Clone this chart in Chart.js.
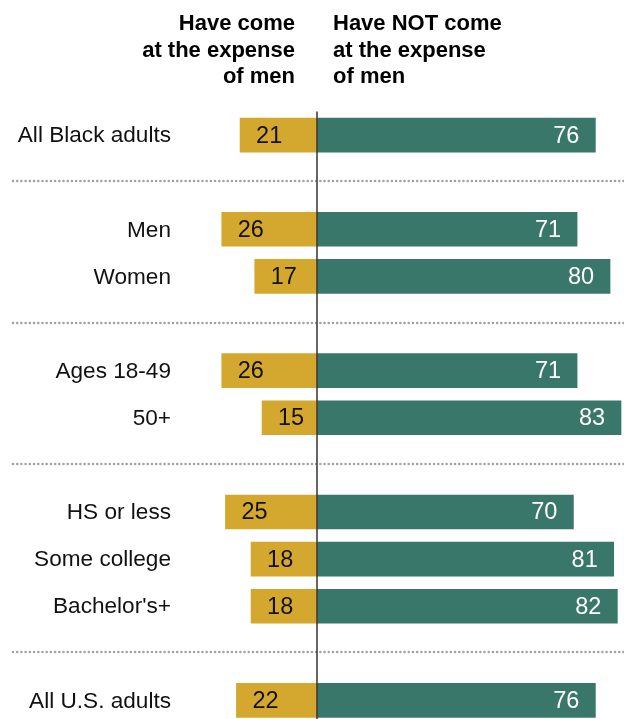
<!DOCTYPE html>
<html>
<head>
<meta charset="utf-8">
<script src="https://cdn.jsdelivr.net/npm/chart.js@4/dist/chart.umd.min.js"></script>
<style>
    html, body { margin: 0; padding: 0; background: #ffffff; overflow: hidden; }
    #wrap { position: relative; width: 624px; height: 719px; overflow: hidden; }
    canvas { display: block; }
</style>
</head>
<body>
<div id="wrap"><canvas id="expenseChart" width="624" height="724"></canvas></div>
<script>
    // Rows with an empty label are spacers that carry the dotted dividers
    const categories = ['All Black adults', '', 'Men', 'Women', '', 'Ages 18-49', '50+', '', 'HS or less', 'Some college', "Bachelor's+", '', 'All U.S. adults'];
    const cameAtExpense = [21, null, 26, 17, null, 26, 15, null, 25, 18, 18, null, 22];
    const notAtExpense = [76, null, 71, 80, null, 71, 83, null, 70, 81, 82, null, 76];
    const leftHeader = ['Have come', 'at the expense', 'of men'];
    const rightHeader = ['Have NOT come', 'at the expense', 'of men'];

    const GOLD = '#D4A72F';
    const GREEN = '#39776A';
    const FONT = "'Liberation Sans', Arial, sans-serif";

    (function () {
        const headerPlugin = {
            id: 'headers',
            afterDraw(chart) {
                const ctx = chart.ctx;
                const x0 = chart.scales.x.getPixelForValue(0);
                ctx.save();
                ctx.fillStyle = '#000000';
                ctx.font = `bold 22px ${FONT}`;
                ctx.textBaseline = 'alphabetic';
                leftHeader.forEach((line, i) => {
                    ctx.textAlign = 'right';
                    ctx.fillText(line, x0 - 22, 30 + i * 26.5);
                });
                rightHeader.forEach((line, i) => {
                    ctx.textAlign = 'left';
                    ctx.fillText(line, x0 + 16, 30 + i * 26.5);
                });
                ctx.restore();
            }
        };

        const dividerPlugin = {
            id: 'dividers',
            beforeDatasetsDraw(chart) {
                const ctx = chart.ctx;
                const y = chart.scales.y;
                ctx.save();
                ctx.strokeStyle = '#a2a2a2';
                ctx.lineWidth = 2.6;
                ctx.lineCap = 'round';
                ctx.setLineDash([0.01, 4.2]);
                categories.forEach((label, i) => {
                    if (label !== '') return;
                    const py = Math.round(y.getPixelForValue(i)) - 1;
                    ctx.beginPath();
                    ctx.moveTo(13, py);
                    ctx.lineTo(chart.width, py);
                    ctx.stroke();
                });
                ctx.restore();
            },
            afterDatasetsDraw(chart) {
                const ctx = chart.ctx;
                const x0 = chart.scales.x.getPixelForValue(0);
                ctx.save();
                ctx.strokeStyle = '#333333';
                ctx.lineWidth = 1.5;
                ctx.beginPath();
                ctx.moveTo(x0, chart.chartArea.top);
                ctx.lineTo(x0, chart.height);
                ctx.stroke();
                ctx.restore();
            }
        };

        const labelPlugin = {
            id: 'valueLabels',
            afterDatasetsDraw(chart) {
                const ctx = chart.ctx;
                const y = chart.scales.y;
                ctx.save();
                ctx.textBaseline = 'middle';

                // category names on the left
                ctx.font = `22.6px ${FONT}`;
                ctx.fillStyle = '#111111';
                ctx.textAlign = 'right';
                categories.forEach((label, i) => {
                    if (label) ctx.fillText(label, 171, y.getPixelForValue(i) + 1);
                });

                ctx.font = `23.5px ${FONT}`;
                chart.getDatasetMeta(0).data.forEach((bar, i) => {
                    if (cameAtExpense[i] == null) return;
                    ctx.fillStyle = '#111111';
                    ctx.textAlign = 'left';
                    ctx.fillText(String(cameAtExpense[i]), bar.x + 16, bar.y + 1);
                });
                chart.getDatasetMeta(1).data.forEach((bar, i) => {
                    if (notAtExpense[i] == null) return;
                    ctx.fillStyle = '#ffffff';
                    ctx.textAlign = 'right';
                    ctx.fillText(String(notAtExpense[i]), bar.x - 16, bar.y + 1);
                });
                ctx.restore();
            }
        };

        function renderChart() {
            const canvas = document.getElementById('expenseChart');
            new Chart(canvas.getContext('2d'), {
                type: 'bar',
                data: {
                    labels: categories,
                    datasets: [{
                        label: 'Have come at the expense of men',
                        data: cameAtExpense.map(v => v == null ? null : -v),
                        backgroundColor: GOLD,
                        barThickness: 34
                    }, {
                        label: 'Have NOT come at the expense of men',
                        data: notAtExpense,
                        backgroundColor: GREEN,
                        barThickness: 34
                    }]
                },
                options: {
                    indexAxis: 'y',
                    responsive: false,
                    animation: false,
                    layout: { padding: { top: 111.5, bottom: 0, left: 0, right: 0 } },
                    scales: {
                        x: { display: false, stacked: true, min: -86.54, max: 83.81 },
                        y: { display: false, stacked: true }
                    },
                    plugins: {
                        legend: { display: false },
                        tooltip: { enabled: false }
                    }
                },
                plugins: [headerPlugin, dividerPlugin, labelPlugin]
            });
        }

        renderChart();
    })();
</script>
</body>
</html>
